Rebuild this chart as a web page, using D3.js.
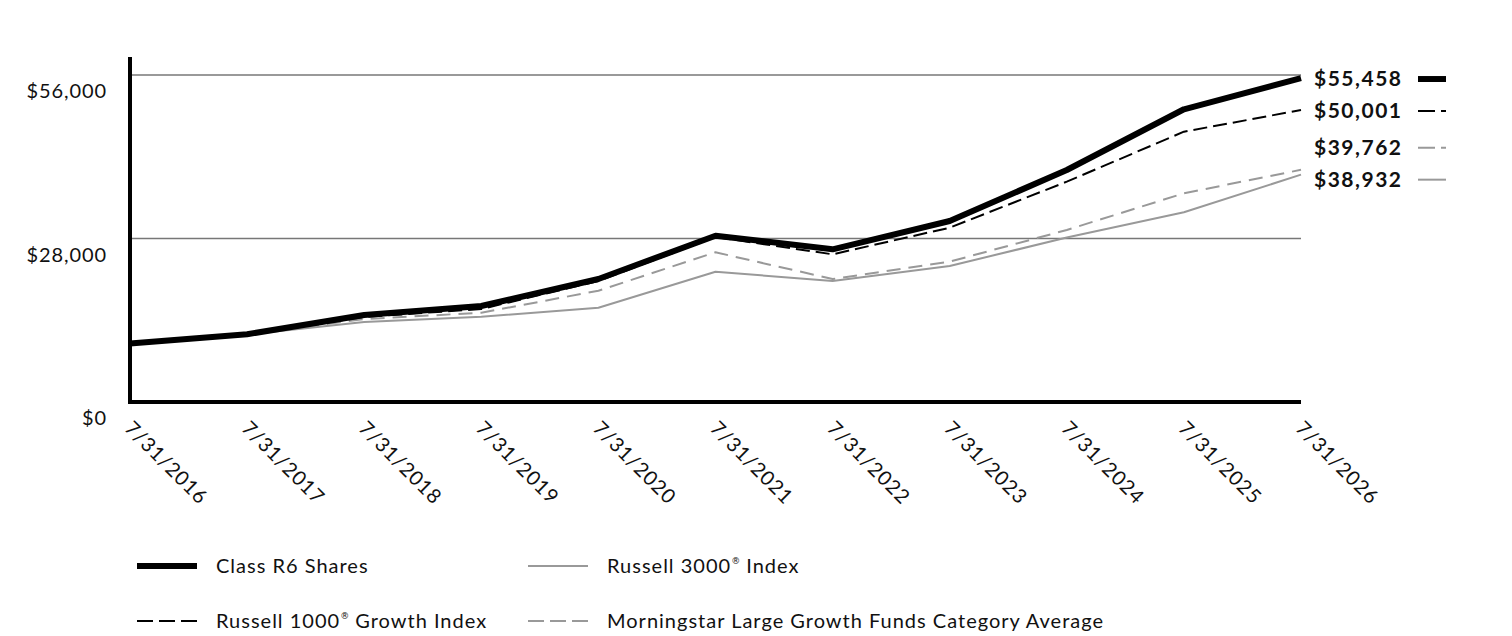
<!DOCTYPE html>
<html>
<head>
<meta charset="utf-8">
<script src="https://cdn.jsdelivr.net/npm/d3@7"></script>
<style>
  body { margin: 0; background: #fff; }
  text { font-family: Lato, "Open Sans", sans-serif; fill: #111; }
  .sup { font-family: "DejaVu Sans", sans-serif; fill: #111; }
</style>
</head>
<body>
<script>
var w = 1512, h = 636;
var margin = {"left": 130, "right": 211, "top": 57, "bottom": 234};

var years = ["7/31/2016","7/31/2017","7/31/2018","7/31/2019","7/31/2020","7/31/2021",
             "7/31/2022","7/31/2023","7/31/2024","7/31/2025","7/31/2026"];
var classR6 =     [10000, 11600, 14900, 16440, 21060, 28480, 26150, 31000, 39730, 50130, 55458];
var russell1000 = [10000, 11600, 14560, 15930, 20720, 28260, 25290, 29850, 37730, 46290, 50001];
var morningstar = [10000, 11550, 14210, 15290, 19060, 25640, 21060, 24030, 29460, 35740, 39762];
var russell3000 = [10000, 11550, 13700, 14610, 16150, 22310, 20720, 23290, 28170, 32490, 38932];
var yTicks = [0, 28000, 56000];

var series = [
    {name: "Class R6 Shares", sup: "", values: classR6, color: "#000", width: 6, dash: null},
    {name: "Russell 1000", sup: "\u00AE", rest: " Growth Index", values: russell1000, color: "#000", width: 2, dash: "14,6"},
    {name: "Morningstar Large Growth Funds Category Average", sup: "", values: morningstar, color: "#999", width: 2, dash: "14,8"},
    {name: "Russell 3000", sup: "\u00AE", rest: " Index", values: russell3000, color: "#999", width: 2, dash: null}
];

var svg = d3.select("body").append("svg")
    .attr("width", w)
    .attr("height", h);

var xScale = d3.scalePoint()
    .domain(years)
    .range([margin.left, w - margin.right]);

var yScale = d3.scaleLinear()
    .domain([0, 56000])
    .range([h - margin.bottom, 75]);

// grid lines
svg.append("g")
    .selectAll("line")
    .data(yTicks.slice(1))
    .enter()
    .append("line")
    .attr("x1", margin.left)
    .attr("x2", w - margin.right)
    .attr("y1", function(d){ return yScale(d); })
    .attr("y2", function(d){ return yScale(d); })
    .attr("stroke", "#777")
    .attr("stroke-width", 1.5);

// y labels (sit below their grid line)
svg.append("g")
    .selectAll("text")
    .data(yTicks)
    .enter()
    .append("text")
    .attr("x", 107)
    .attr("y", function(d){ return yScale(d) + 18; })
    .attr("text-anchor", "end")
    .attr("dominant-baseline", "middle")
    .style("font-size", "20px")
    .style("letter-spacing", "0.9px")
    .text(function(d){ return "$" + d3.format(",")(d); });

// x labels
svg.append("g")
    .selectAll("text")
    .data(years)
    .enter()
    .append("text")
    .attr("transform", function(d){
        return "translate(" + (xScale(d) - 3) + "," + 426 + ") rotate(45)";
    })
    .attr("dominant-baseline", "middle")
    .style("font-size", "20px")
    .style("letter-spacing", "0.9px")
    .text(function(d){ return d; });

// lines
var line = d3.line()
    .x(function(d, i){ return xScale(years[i]); })
    .y(function(d){ return yScale(d); });

var drawOrder = [series[3], series[2], series[1], series[0]];
svg.append("g")
    .selectAll("path")
    .data(drawOrder)
    .enter()
    .append("path")
    .attr("d", function(d){ return line(d.values); })
    .attr("fill", "none")
    .attr("stroke", function(d){ return d.color; })
    .attr("stroke-width", function(d){ return d.width; })
    .attr("stroke-dasharray", function(d){ return d.dash; })
    .attr("stroke-linejoin", "round");

// axes
svg.append("line")
    .attr("x1", margin.left).attr("x2", margin.left)
    .attr("y1", margin.top).attr("y2", yScale(0) + 2)
    .attr("stroke", "#000").attr("stroke-width", 4);
svg.append("line")
    .attr("x1", margin.left - 2).attr("x2", w - margin.right)
    .attr("y1", yScale(0)).attr("y2", yScale(0))
    .attr("stroke", "#000").attr("stroke-width", 4);

// end labels, pushed apart from the bottom up
var ends = series.map(function(s){ return {s: s, y: yScale(s.values[s.values.length - 1])}; });
ends.sort(function(a, b){ return b.y - a.y; });
ends.forEach(function(e, i){
    if (i === 0) { e.ly = e.y + 5; }
    else { e.ly = Math.min(e.y + 1, ends[i - 1].ly - 32); }
});

var endG = svg.append("g")
    .selectAll("g")
    .data(ends)
    .enter()
    .append("g")
    .attr("transform", function(d){ return "translate(0," + d.ly + ")"; });

endG.append("text")
    .attr("x", 1314)
    .attr("y", 2)
    .attr("dominant-baseline", "middle")
    .style("font-size", "21px")
    .style("font-weight", "bold")
    .style("letter-spacing", "1.5px")
    .text(function(d){ return "$" + d3.format(",")(d.s.values[d.s.values.length - 1]); });

endG.append("line")
    .attr("x1", 1418).attr("x2", 1446)
    .attr("y1", 0).attr("y2", 0)
    .attr("stroke", function(d){ return d.s.color; })
    .attr("stroke-width", function(d){ return d.s.width; })
    .attr("stroke-dasharray", function(d){ return d.s.dash ? "17,6" : null; });

// legend
var legendPos = [
    {s: series[0], x: 137, y: 566},
    {s: series[3], x: 528, y: 566},
    {s: series[1], x: 137, y: 621},
    {s: series[2], x: 528, y: 621}
];
var leg = svg.append("g")
    .selectAll("g")
    .data(legendPos)
    .enter()
    .append("g")
    .attr("transform", function(d){ return "translate(" + d.x + "," + d.y + ")"; });

leg.append("line")
    .attr("x1", 0).attr("x2", 60)
    .attr("y1", 0).attr("y2", 0)
    .attr("stroke", function(d){ return d.s.color; })
    .attr("stroke-width", function(d){ return d.s.width; })
    .attr("stroke-dasharray", function(d){ return d.s.dash ? "16,6" : null; });

var legText = leg.append("text")
    .attr("x", 79)
    .attr("y", 2)
    .attr("dominant-baseline", "middle")
    .style("font-size", "20px")
    .style("letter-spacing", "1px");
legText.append("tspan").text(function(d){ return d.s.name; });
legText.append("tspan")
    .attr("class", "sup")
    .attr("dy", -7)
    .style("font-size", "9px")
    .style("letter-spacing", "0px")
    .text(function(d){ return d.s.sup; });
legText.append("tspan")
    .attr("dy", 7)
    .text(function(d){ return d.s.rest || ""; });
</script>
</body>
</html>
